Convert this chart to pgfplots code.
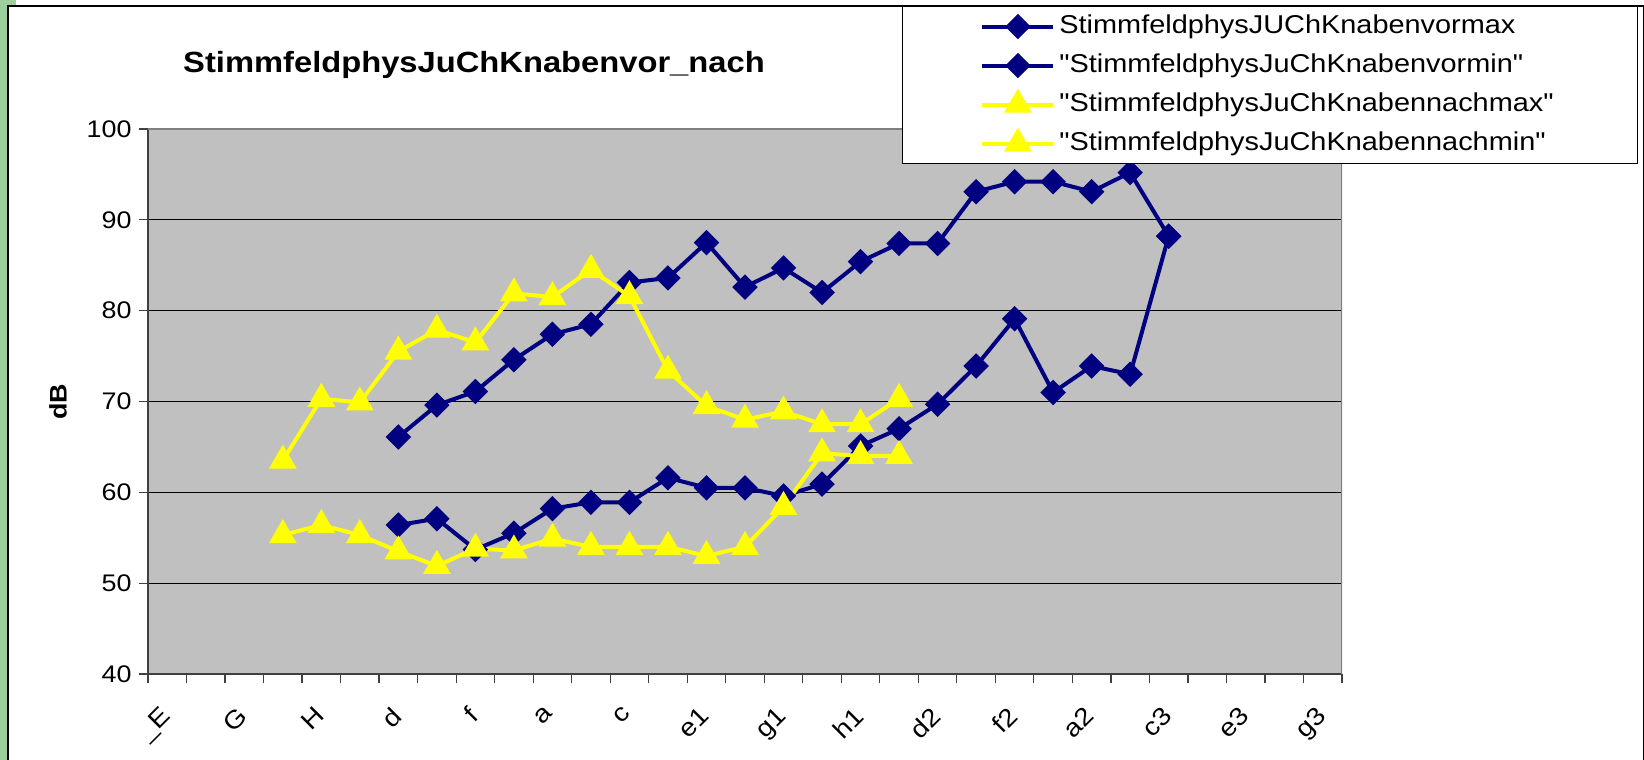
\documentclass[border=0pt]{standalone}
\usepackage{fontspec}
\setmainfont{Liberation Sans}[FakeStretch=1.12, Ligatures=TeXOff]
\usepackage{pgfplots}
\pgfplotsset{compat=1.18}
\definecolor{navy}{HTML}{000080}
\definecolor{plotgray}{HTML}{C0C0C0}
\definecolor{greenbar}{HTML}{9BCF9B}
\definecolor{yel}{HTML}{FFFF00}
\begin{document}
\begin{tikzpicture}
\useasboundingbox (0pt,0pt) rectangle (822pt,380pt);
\fill[white] (0pt,0pt) rectangle (822pt,380pt);
\fill[greenbar] (0pt,0pt) rectangle (4pt,380pt);
\fill[greenbar] (0pt,377pt) rectangle (8pt,380pt);
\draw[black, line width=0.7pt] (4pt,0pt) -- (4pt,377pt) -- (821.6pt,377pt) -- (821.6pt,0pt);
\node[font=\bfseries\fontsize{14.6}{17}\selectfont] at (237pt,347.5pt) {StimmfeldphysJuChKnabenvor\_nach};
\node[font=\bfseries\fontsize{12}{14}\selectfont, rotate=90] at (29pt,179pt) {dB};
\begin{axis}[
  at={(74pt,43pt)}, anchor=south west,
  width=597pt, height=272.5pt, scale only axis,
  xmin=-0.5, xmax=30.5, ymin=40, ymax=100,
  axis background/.style={fill=plotgray},
  axis x line*=bottom, axis y line*=left,
  axis line style={-, draw=black!75, line width=0.9pt},
  ytick={40,50,...,100},
  ymajorgrids, grid style={black, line width=0.5pt},
  xtick={0,2,...,30},
  xticklabels={\_E,G,H,d,f,a,c,e1,g1,h1,d2,f2,a2,c3,e3,g3},
  minor xtick={-0.5,0.5,...,30.5},
  tick align=outside,
  major tick length=4.7pt, minor tick length=4.7pt,
  major x tick style={draw=none},
  tick style={black!75, line width=0.6pt},
  minor x tick style={black!75, line width=0.6pt},
  xticklabel style={xshift=-4pt, yshift=-6pt, rotate=45, anchor=north east, font=\fontsize{12.5}{14}\selectfont},
  yticklabel style={font=\fontsize{12}{14}\selectfont},
  /pgf/number format/assume math mode=true,
  legend style={at={(1.2479,1.2257)}, anchor=north east, draw=black, line width=0.6pt, fill=white,
    inner xsep=39pt, inner ysep=4pt, row sep=7.5pt, font=\fontsize{12.9}{15}\selectfont,
    nodes={inner sep=0pt, text height=9.5pt, text depth=2.5pt},
    /tikz/every odd column/.style={column sep=2pt}},
  legend cell align=left,
  legend image code/.code={\draw[mark repeat=2, mark phase=2, #1] plot coordinates {(0pt,0pt) (17.75pt,0pt) (35.5pt,0pt)};},
]
\addplot[navy, line width=2pt, mark=square*, mark size=3.5pt, mark options={rotate=45, solid}] coordinates {
(6,66.1) (7,69.6) (8,71.1) (9,74.6) (10,77.4) (11,78.5) (12,83.1) (13,83.6) (14,87.5) (15,82.6) (16,84.7)
(17,82.0) (18,85.4) (19,87.4) (20,87.4) (21,93.1) (22,94.2) (23,94.2) (24,93.1) (25,95.2) (26,88.2)};
\addlegendentry{\makebox[250pt][l]{StimmfeldphysJUChKnabenvormax}}
\addplot[navy, line width=2pt, mark=square*, mark size=3.5pt, mark options={rotate=45, solid}] coordinates {
(6,56.4) (7,57.1) (8,53.7) (9,55.5) (10,58.2) (11,58.9) (12,58.9) (13,61.6) (14,60.5) (15,60.5) (16,59.6)
(17,60.9) (18,65.1) (19,67.0) (20,69.7) (21,73.9) (22,79.1) (23,71.0) (24,73.9) (25,73.0) (26,88.2)};
\addlegendentry{\makebox[250pt][l]{"StimmfeldphysJuChKnabenvormin"}}
\addplot[yel, line width=2pt, mark=triangle*, mark size=6pt, mark options={solid}] coordinates {
(3,63.5) (4,70.3) (5,69.9) (6,75.5) (7,77.9) (8,76.5) (9,81.9) (10,81.5) (11,84.5) (12,81.6) (13,73.4)
(14,69.5) (15,68.0) (16,68.9) (17,67.5) (18,67.5) (19,70.3)};
\addlegendentry{\makebox[250pt][l]{"StimmfeldphysJuChKnabennachmax"}}
\addplot[yel, line width=2pt, mark=triangle*, mark size=6pt, mark options={solid}] coordinates {
(3,55.3) (4,56.4) (5,55.3) (6,53.5) (7,51.9) (8,53.8) (9,53.6) (10,54.9) (11,54.0) (12,54.0) (13,54.0)
(14,53.0) (15,54.0) (16,58.4) (17,64.3) (18,64.0) (19,64.0)};
\addlegendentry{\makebox[250pt][l]{"StimmfeldphysJuChKnabennachmin"}}
\draw[gray, line width=0.9pt] (rel axis cs:0,1) -- (rel axis cs:1,1) -- (rel axis cs:1,0);
\end{axis}
\end{tikzpicture}
\end{document}
